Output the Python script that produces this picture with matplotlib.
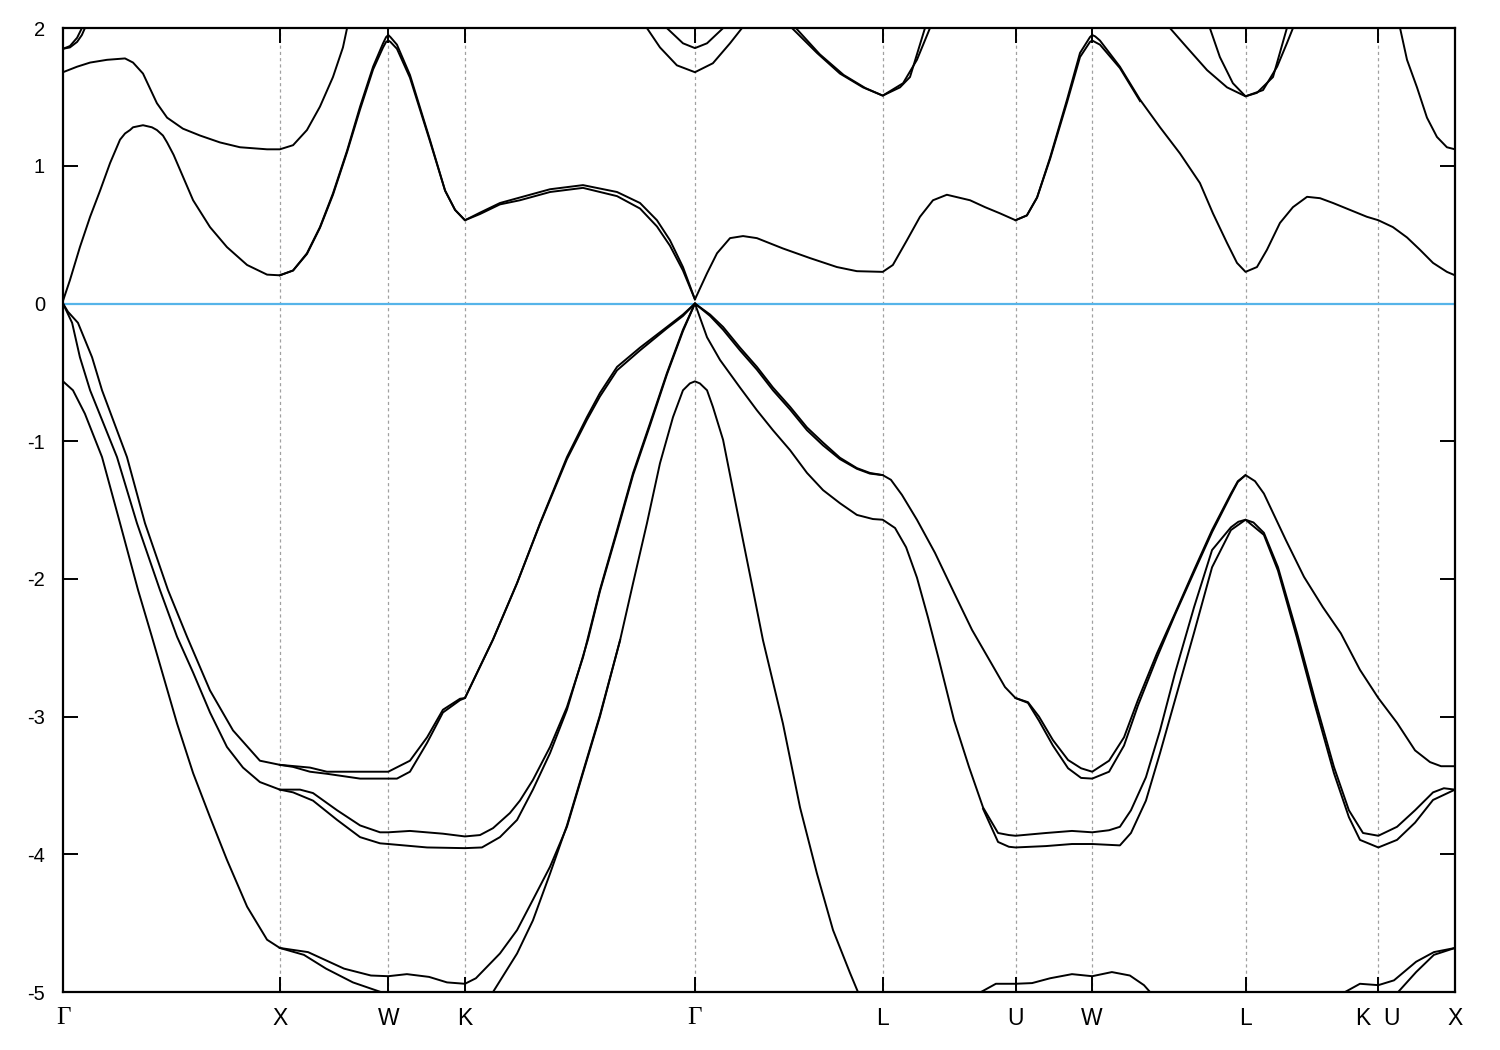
import matplotlib
matplotlib.use("Agg")
import matplotlib.pyplot as plt

# high-symmetry points along the fcc path (2pi/a)
sym_k = [0.0, 1.0, 1.5, 1.8536, 2.9142, 3.7802, 4.3926, 4.7462, 5.4533, 6.0657, 6.4193]
sym_labels = ["Γ", "X", "W", "K", "Γ", "L", "U", "W", "L", "K  U", "X"]

# ---- valence bands ----
k_a1 = [0, 0.023, 0.069, 0.134, 0.180, 0.295, 0.378, 0.484, 0.572, 0.678, 0.784, 0.908, 1.0,
        1.139, 1.217, 1.5,
        1.600, 1.679, 1.752, 1.831, 1.8536,
        1.983, 2.094, 2.200, 2.324, 2.416, 2.476, 2.555, 2.661, 2.785, 2.859, 2.9142,
        2.984, 3.044, 3.122, 3.200, 3.274, 3.353, 3.431, 3.505, 3.583, 3.661, 3.721, 3.7802,
        3.818, 3.869, 3.938, 4.021, 4.109, 4.192, 4.280, 4.344, 4.3926,
        4.450, 4.501, 4.565, 4.635, 4.695, 4.7462,
        4.824, 4.893, 4.957, 5.045, 5.128, 5.216, 5.299, 5.386, 5.418, 5.4533, 5.497,
        5.538, 5.640, 5.723, 5.810, 5.893, 5.981, 6.0657,
        6.152, 6.235, 6.304, 6.355, 6.4193]
e_a1 = [0, -0.06, -0.14, -0.39, -0.63, -1.115, -1.595, -2.08, -2.42, -2.81, -3.10, -3.32, -3.35,
        -3.37, -3.40, -3.40,
        -3.32, -3.15, -2.95, -2.87, -2.865,
        -2.44, -2.03, -1.595, -1.115, -0.825, -0.65, -0.46, -0.32, -0.17, -0.08, 0.0,
        -0.08, -0.17, -0.32, -0.46, -0.61, -0.75, -0.90, -1.01, -1.12, -1.195, -1.23, -1.246,
        -1.28, -1.39, -1.57, -1.81, -2.10, -2.37, -2.61, -2.785, -2.865,
        -2.895, -3.00, -3.17, -3.315, -3.375, -3.40,
        -3.32, -3.15, -2.88, -2.54, -2.25, -1.935, -1.645, -1.38, -1.29, -1.246, -1.29,
        -1.38, -1.72, -1.985, -2.205, -2.395, -2.66, -2.865,
        -3.045, -3.245, -3.33, -3.36, -3.36]

k_a2 = [1.0, 1.061, 1.139, 1.217, 1.370, 1.5,
        1.540, 1.600, 1.679, 1.752, 1.831, 1.8536,
        1.983, 2.094, 2.200, 2.324, 2.416, 2.476, 2.555, 2.661, 2.785, 2.859, 2.9142,
        2.984, 3.044, 3.122, 3.200, 3.274, 3.353, 3.431, 3.505, 3.583, 3.661, 3.721, 3.7802]
e_a2 = [-3.35, -3.365, -3.40, -3.415, -3.45, -3.45,
        -3.45, -3.40, -3.19, -2.97, -2.88, -2.865,
        -2.44, -2.03, -1.60, -1.13, -0.845, -0.675, -0.485, -0.34, -0.18, -0.09, 0.0,
        -0.09, -0.19, -0.34, -0.48, -0.63, -0.77, -0.92, -1.03, -1.13, -1.20, -1.235, -1.246]
k_a2b = [4.3926, 4.450, 4.501, 4.565, 4.635, 4.695, 4.7462,
         4.824, 4.893, 4.957, 5.045, 5.128, 5.216, 5.299, 5.386, 5.418, 5.4533]
e_a2b = [-2.865, -2.90, -3.03, -3.21, -3.375, -3.445, -3.45,
         -3.40, -3.21, -2.92, -2.57, -2.26, -1.95, -1.66, -1.39, -1.295, -1.246]

k_b1 = [0, 0.042, 0.078, 0.125, 0.249, 0.341, 0.447, 0.526, 0.600, 0.678, 0.756, 0.830, 0.908, 1.0,
        1.093, 1.153, 1.264, 1.370, 1.462, 1.5,
        1.600, 1.752, 1.8536,
        1.923, 1.983, 2.061, 2.107, 2.167, 2.246, 2.324, 2.398, 2.476, 2.555, 2.629, 2.707, 2.785, 2.859, 2.9142,
        2.970, 3.030, 3.122, 3.200, 3.274, 3.353, 3.431, 3.505, 3.583, 3.661, 3.735, 3.7802,
        3.837, 3.888, 3.938, 3.989, 4.040, 4.109, 4.178, 4.243, 4.312, 4.362, 4.3926,
        4.533, 4.653, 4.7462,
        4.824, 4.874, 4.925, 4.994, 5.059, 5.128, 5.216, 5.299, 5.386, 5.420, 5.4533, 5.490,
        5.538, 5.603, 5.691, 5.774, 5.861, 5.930, 5.995, 6.0657,
        6.152, 6.235, 6.318, 6.368, 6.4193]
e_b1 = [0, -0.14, -0.39, -0.63, -1.115, -1.595, -2.08, -2.42, -2.68, -2.97, -3.22, -3.37, -3.475, -3.53,
        -3.53, -3.555, -3.68, -3.79, -3.84, -3.84,
        -3.83, -3.85, -3.87,
        -3.86, -3.81, -3.70, -3.61, -3.46, -3.22, -2.93, -2.57, -2.08, -1.645, -1.23, -0.87, -0.505, -0.19, 0.0,
        -0.245, -0.41, -0.61, -0.775, -0.92, -1.065, -1.23, -1.355, -1.45, -1.535, -1.565, -1.57,
        -1.63, -1.77, -1.99, -2.28, -2.59, -3.025, -3.365, -3.66, -3.845, -3.86, -3.865,
        -3.845, -3.83, -3.84,
        -3.825, -3.80, -3.68, -3.44, -3.10, -2.685, -2.205, -1.79, -1.625, -1.585, -1.57, -1.59,
        -1.665, -1.915, -2.395, -2.88, -3.365, -3.68, -3.845, -3.865,
        -3.80, -3.68, -3.55, -3.52, -3.53]

k_b2 = [1.0, 1.061, 1.153, 1.264, 1.370, 1.462, 1.5,
        1.679, 1.8536,
        1.932, 2.015, 2.094, 2.167, 2.246, 2.324, 2.421, 2.476, 2.555, 2.629, 2.707, 2.785, 2.859, 2.9142]
e_b2 = [-3.53, -3.55, -3.61, -3.75, -3.875, -3.92, -3.925,
        -3.95, -3.955,
        -3.95, -3.875, -3.75, -3.53, -3.265, -2.95, -2.44, -2.09, -1.66, -1.245, -0.885, -0.515, -0.20, 0.0]
k_b2b = [4.243, 4.312, 4.362, 4.3926,
         4.533, 4.653, 4.7462,
         4.874, 4.925, 4.994, 5.059, 5.128, 5.216, 5.299, 5.386, 5.4533,
         5.538, 5.603, 5.691, 5.774, 5.861, 5.930, 5.981, 6.0657,
         6.152, 6.235, 6.318, 6.4193]
e_b2b = [-3.67, -3.91, -3.945, -3.95,
         -3.94, -3.925, -3.925,
         -3.935, -3.845, -3.61, -3.265, -2.88, -2.39, -1.915, -1.645, -1.57,
         -1.68, -1.94, -2.43, -2.92, -3.41, -3.73, -3.895, -3.95,
         -3.895, -3.77, -3.605, -3.53]

k_s1 = [0, 0.046, 0.101, 0.180, 0.263, 0.346, 0.410, 0.526, 0.600, 0.678, 0.756, 0.849, 0.941, 1.0,
        1.130, 1.296, 1.420, 1.5,
        1.586, 1.688, 1.771, 1.8536,
        1.904, 2.015, 2.094, 2.167, 2.246, 2.324, 2.398, 2.476, 2.569, 2.629, 2.693, 2.753, 2.813, 2.859, 2.891, 2.9142,
        2.937, 2.970, 2.997, 3.044, 3.090, 3.136, 3.182, 3.228, 3.320, 3.399, 3.477, 3.551, 3.629, 3.666, 3.703]
e_s1 = [-0.565, -0.63, -0.80, -1.115, -1.595, -2.08, -2.42, -3.05, -3.41, -3.73, -4.04, -4.38, -4.62, -4.68,
        -4.71, -4.83, -4.88, -4.885,
        -4.87, -4.89, -4.93, -4.94,
        -4.90, -4.72, -4.55, -4.33, -4.09, -3.80, -3.41, -3.00, -2.445, -2.03, -1.595, -1.16, -0.825, -0.63, -0.58, -0.565,
        -0.58, -0.63, -0.75, -0.99, -1.355, -1.72, -2.08, -2.445, -3.05, -3.66, -4.14, -4.55, -4.86, -5.0, -5.13]

k_s2 = [1.0, 1.111, 1.213, 1.337, 1.466, 1.517]
e_s2 = [-4.68, -4.73, -4.83, -4.93, -5.0, -5.06]
k_low = [1.955, 1.983, 2.094, 2.167, 2.246, 2.324, 2.398, 2.476, 2.569]
e_low = [-5.13, -5.0, -4.72, -4.48, -4.14, -3.79, -3.40, -2.99, -2.445]
k_s3 = [4.206, 4.233, 4.302, 4.3926, 4.469, 4.552, 4.653, 4.7462, 4.837, 4.920, 4.985, 5.013, 5.040]
e_s3 = [-5.06, -5.0, -4.94, -4.94, -4.935, -4.90, -4.87, -4.885, -4.855, -4.88, -4.95, -5.0, -5.06]
k_s4 = [5.880, 5.912, 5.981, 6.0657, 6.138, 6.240, 6.322, 6.4193]
e_s4 = [-5.06, -5.0, -4.94, -4.95, -4.915, -4.78, -4.71, -4.68]
k_s5 = [6.138, 6.157, 6.240, 6.322, 6.4193]
e_s5 = [-5.06, -5.0, -4.855, -4.73, -4.68]

# ---- conduction bands ----
k_c1 = [0, 0.032, 0.078, 0.125, 0.171, 0.217, 0.263, 0.286, 0.309, 0.323, 0.369, 0.410, 0.433, 0.461, 0.480,
        0.510, 0.540, 0.600, 0.678, 0.756, 0.849, 0.941, 1.0,
        1.061, 1.125, 1.185, 1.245, 1.310, 1.370, 1.430, 1.476, 1.490, 1.5,
        1.510, 1.54, 1.600, 1.692, 1.762, 1.808, 1.8536,
        1.923, 2.015, 2.107, 2.246, 2.398, 2.555, 2.661, 2.739, 2.799, 2.859, 2.9142,
        2.970, 3.016, 3.076, 3.136, 3.200, 3.320, 3.445, 3.569, 3.661, 3.7802,
        3.827, 3.892, 3.952, 4.012, 4.076, 4.183, 4.252, 4.321, 4.3926,
        4.445, 4.492, 4.552, 4.630, 4.690, 4.736, 4.7462,
        4.760, 4.782, 4.874, 4.967, 5.059, 5.151, 5.243, 5.303, 5.368, 5.414, 5.4533,
        5.506, 5.552, 5.612, 5.672, 5.737, 5.797, 5.857, 5.935, 6.013, 6.0657,
        6.133, 6.198, 6.258, 6.318, 6.382, 6.4193]
e_c1 = [0.02, 0.17, 0.41, 0.63, 0.82, 1.02, 1.19, 1.235, 1.26, 1.28, 1.295, 1.28, 1.26, 1.22, 1.17,
        1.08, 0.97, 0.75, 0.555, 0.41, 0.28, 0.21, 0.205,
        0.24, 0.365, 0.555, 0.80, 1.11, 1.43, 1.72, 1.89, 1.935, 1.95,
        1.935, 1.88, 1.66, 1.19, 0.82, 0.68, 0.605,
        0.66, 0.73, 0.77, 0.83, 0.86, 0.81, 0.73, 0.605, 0.46, 0.265, 0.03,
        0.22, 0.365, 0.475, 0.49, 0.475, 0.40, 0.33, 0.265, 0.235, 0.23,
        0.28, 0.46, 0.63, 0.75, 0.79, 0.75, 0.70, 0.655, 0.605,
        0.64, 0.77, 1.06, 1.48, 1.82, 1.935, 1.95,
        1.94, 1.91, 1.72, 1.48, 1.28, 1.09, 0.875, 0.655, 0.44, 0.295, 0.23,
        0.265, 0.39, 0.585, 0.70, 0.775, 0.765, 0.73, 0.68, 0.63, 0.605,
        0.555, 0.48, 0.39, 0.295, 0.23, 0.205]

k_c1b = [1.0, 1.061, 1.125, 1.185, 1.245, 1.310, 1.370, 1.430, 1.476, 1.490, 1.5, 1.510, 1.54, 1.600, 1.692,
         1.762, 1.808, 1.8536,
         1.923, 2.015, 2.107, 2.246, 2.398, 2.555, 2.661, 2.739, 2.799, 2.859, 2.9142]
e_c1b = [0.205, 0.24, 0.36, 0.55, 0.79, 1.10, 1.41, 1.70, 1.86, 1.90, 1.91, 1.90, 1.85, 1.64, 1.18,
         0.82, 0.68, 0.605,
         0.65, 0.72, 0.75, 0.81, 0.84, 0.78, 0.69, 0.56, 0.42, 0.24, 0.03]
k_c1c = [4.3926, 4.445, 4.492, 4.552, 4.630, 4.690, 4.736, 4.7462, 4.782, 4.874, 4.967]
e_c1c = [0.605, 0.64, 0.77, 1.05, 1.46, 1.79, 1.90, 1.91, 1.88, 1.71, 1.47]

k_c2 = [0, 0.065, 0.125, 0.203, 0.286, 0.323, 0.369, 0.433, 0.480, 0.553, 0.632, 0.724, 0.816, 0.941, 1.0,
        1.061, 1.125, 1.185, 1.245, 1.291, 1.310, 1.333]
e_c2 = [1.68, 1.72, 1.75, 1.77, 1.78, 1.75, 1.67, 1.455, 1.35, 1.27, 1.22, 1.17, 1.135, 1.12, 1.12,
        1.15, 1.26, 1.43, 1.645, 1.86, 2.0, 2.13]
k_c2r = [6.150, 6.166, 6.198, 6.244, 6.290, 6.336, 6.382, 6.4193]
e_c2r = [2.13, 2.0, 1.77, 1.57, 1.35, 1.21, 1.135, 1.12]

# higher bands entering from the top
k_g1 = [0, 0.032, 0.065, 0.087, 0.101]
e_g1 = [1.85, 1.86, 1.90, 1.95, 2.0]
k_g2 = [0, 0.032, 0.065, 0.087, 0.101]
e_g2 = [1.85, 1.87, 1.93, 2.0, 2.05]
k_p1 = [2.661, 2.693, 2.753, 2.831, 2.9142, 2.997, 3.076, 3.131, 3.16]
e_p1 = [2.13, 2.0, 1.86, 1.73, 1.68, 1.745, 1.89, 2.0, 2.08]
k_p2 = [2.785, 2.859, 2.9142, 2.970, 3.044]
e_p2 = [2.0, 1.89, 1.855, 1.89, 2.0]
k_q1 = [3.362, 3.477, 3.583, 3.689, 3.7802, 3.874, 3.938, 3.998]
e_q1 = [2.0, 1.82, 1.67, 1.57, 1.51, 1.60, 1.77, 2.0]
k_q2 = [3.38, 3.49, 3.60, 3.70, 3.7802, 3.860, 3.906, 3.975]
e_q2 = [2.0, 1.81, 1.66, 1.565, 1.51, 1.57, 1.645, 2.0]
k_r1 = [5.105, 5.183, 5.276, 5.368, 5.4533, 5.534, 5.599, 5.644, 5.672]
e_r1 = [2.0, 1.86, 1.695, 1.57, 1.505, 1.55, 1.72, 1.89, 2.0]
k_r2 = [5.289, 5.335, 5.395, 5.4533, 5.506, 5.580, 5.644]
e_r2 = [2.0, 1.79, 1.60, 1.505, 1.53, 1.645, 2.0]

bands = [(k_a1, e_a1), (k_a2, e_a2), (k_a2b, e_a2b), (k_b1, e_b1), (k_b2, e_b2), (k_b2b, e_b2b),
         (k_s1, e_s1), (k_s2, e_s2), (k_low, e_low), (k_s3, e_s3), (k_s4, e_s4), (k_s5, e_s5),
         (k_c1, e_c1), (k_c1b, e_c1b), (k_c1c, e_c1c), (k_c2, e_c2), (k_c2r, e_c2r),
         (k_g1, e_g1), (k_g2, e_g2), (k_p1, e_p1), (k_p2, e_p2),
         (k_q1, e_q1), (k_q2, e_q2), (k_r1, e_r1), (k_r2, e_r2)]

fig = plt.figure(figsize=(15, 10.5), dpi=100)
ax = fig.add_axes([0.042, 0.0552, 0.928, 0.918])

for xk in sym_k[1:-1]:
    ax.axvline(xk, color="#a0a0a0", lw=0.9, ls=(0, (2.5, 2.5)), zorder=1)
ax.axhline(0, color="#56b4e9", lw=1.6, zorder=2)

for kk, ee in bands:
    ax.plot(kk, ee, color="black", lw=1.4, zorder=3)

ax.set_xlim(sym_k[0], sym_k[-1])
ax.set_ylim(-5, 2)
ax.set_yticks(range(-5, 3))
ax.set_yticklabels([str(v) for v in range(-5, 3)], fontfamily="Liberation Sans", fontsize=14.5)
ax.set_xticks(sym_k)
ax.set_xticklabels(sym_labels, fontfamily="Liberation Sans", fontsize=16.5)
for lab in ax.get_xticklabels():
    if lab.get_text() == "Γ":
        lab.set_fontfamily("Liberation Serif")
        lab.set_fontsize(18)
ax.tick_params(axis="both", direction="in", length=11, width=1.4, top=True, right=True)
ax.tick_params(axis="x", pad=11)
ax.tick_params(axis="y", pad=13)
for sp in ax.spines.values():
    sp.set_linewidth(1.6)

fig.savefig("out.png", dpi=100)
plt.close(fig)
